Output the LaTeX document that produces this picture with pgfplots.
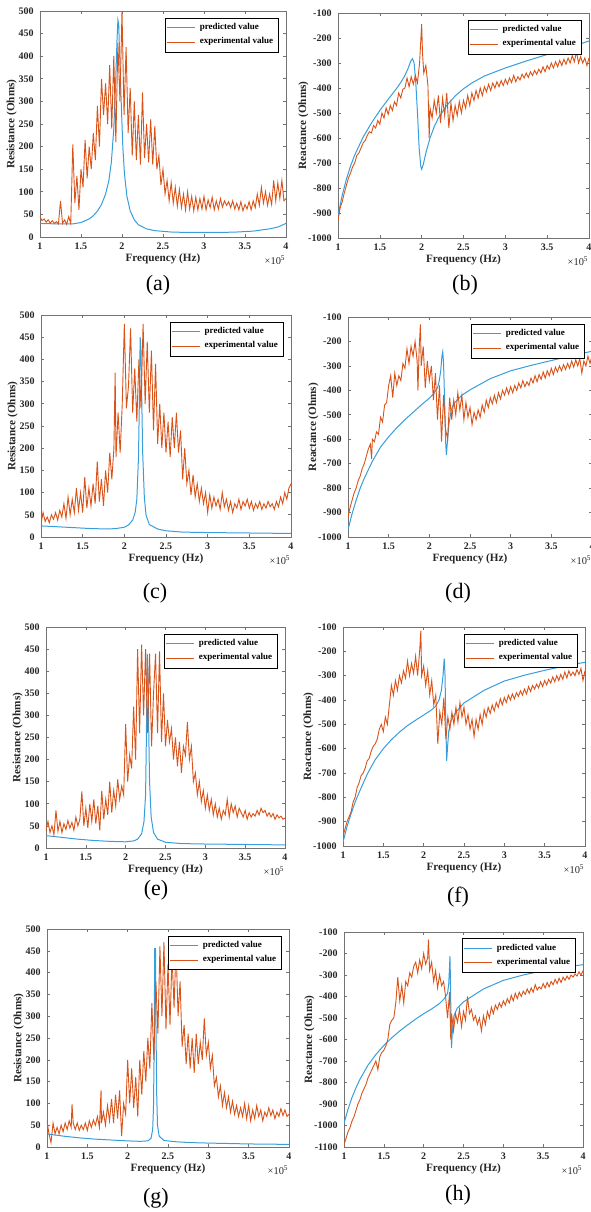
\documentclass[border=0pt]{standalone}
\usepackage{fontspec}
\setmainfont{Liberation Serif}
\usepackage{pgfplots}
\pgfplotsset{compat=1.18}
\usepackage{pgfplotstable}

\definecolor{predblue}{RGB}{55,158,220}
\definecolor{expred}{RGB}{217,83,25}

% experimental series, x in units of 1e5 Hz
\pgfplotstableread[row sep=\\]{x y\\
1.000 45\\ 1.025 36\\ 1.050 40\\ 1.075 33\\ 1.100 38\\ 1.125 31\\ 1.150 36\\ 1.175 30\\
1.200 34\\ 1.225 29\\ 1.250 80\\ 1.275 30\\ 1.300 38\\ 1.325 28\\ 1.350 45\\ 1.375 30\\
1.400 205\\ 1.425 75\\ 1.450 135\\ 1.475 60\\ 1.500 150\\ 1.525 110\\ 1.550 215\\ 1.575 130\\
1.600 200\\ 1.625 150\\ 1.650 230\\ 1.675 170\\ 1.700 290\\ 1.725 200\\ 1.750 350\\ 1.775 270\\
1.800 340\\ 1.825 250\\ 1.850 380\\ 1.875 240\\ 1.900 400\\ 1.925 210\\ 1.950 430\\ 1.975 300\\
2.000 500\\ 2.025 270\\ 2.050 420\\ 2.075 230\\ 2.100 330\\ 2.125 180\\ 2.150 300\\ 2.175 170\\
2.200 270\\ 2.225 160\\ 2.250 320\\ 2.275 175\\ 2.300 250\\ 2.325 165\\ 2.350 260\\ 2.375 160\\
2.400 245\\ 2.425 150\\ 2.450 180\\ 2.475 115\\ 2.500 150\\ 2.525 95\\ 2.550 125\\ 2.575 80\\
2.600 120\\ 2.625 75\\ 2.650 110\\ 2.675 68\\ 2.700 105\\ 2.725 65\\ 2.750 95\\ 2.775 60\\
2.800 100\\ 2.825 62\\ 2.850 90\\ 2.875 58\\ 2.900 88\\ 2.925 60\\ 2.950 85\\ 2.975 62\\
3.000 90\\ 3.025 60\\ 3.050 82\\ 3.075 65\\ 3.100 88\\ 3.125 60\\ 3.150 80\\ 3.175 62\\
3.200 85\\ 3.225 66\\ 3.250 80\\ 3.275 70\\ 3.300 78\\ 3.325 65\\ 3.350 80\\ 3.375 62\\
3.400 75\\ 3.425 60\\ 3.450 78\\ 3.475 58\\ 3.500 72\\ 3.525 62\\ 3.550 78\\ 3.575 60\\
3.600 80\\ 3.625 65\\ 3.650 95\\ 3.675 70\\ 3.700 110\\ 3.725 75\\ 3.750 100\\ 3.775 70\\
3.800 95\\ 3.825 72\\ 3.850 125\\ 3.875 80\\ 3.900 120\\ 3.925 85\\ 3.950 125\\ 3.975 80\\
4.000 85\\
}\expA

\pgfplotstableread[row sep=\\]{x y\\
1.000 -930\\ 1.025 -880\\ 1.050 -855\\ 1.075 -820\\ 1.100 -790\\ 1.125 -760\\ 1.150 -740\\ 1.175 -715\\
1.200 -700\\ 1.225 -670\\ 1.250 -660\\ 1.275 -640\\ 1.300 -620\\ 1.325 -610\\ 1.350 -590\\ 1.375 -575\\
1.400 -580\\ 1.425 -550\\ 1.450 -560\\ 1.475 -530\\ 1.500 -545\\ 1.525 -500\\ 1.550 -520\\ 1.575 -480\\
1.600 -505\\ 1.625 -470\\ 1.650 -490\\ 1.675 -455\\ 1.700 -470\\ 1.725 -420\\ 1.750 -440\\ 1.775 -405\\
1.800 -400\\ 1.825 -360\\ 1.850 -395\\ 1.875 -355\\ 1.900 -385\\ 1.925 -350\\ 1.950 -380\\ 1.975 -300\\
2.000 -145\\ 2.010 -260\\ 2.025 -340\\ 2.050 -310\\ 2.075 -390\\ 2.090 -600\\ 2.100 -480\\ 2.125 -520\\
2.150 -450\\ 2.175 -500\\ 2.200 -430\\ 2.225 -540\\ 2.250 -440\\ 2.275 -510\\ 2.300 -420\\ 2.325 -560\\
2.350 -460\\ 2.375 -530\\ 2.400 -470\\ 2.425 -510\\ 2.450 -455\\ 2.475 -500\\ 2.500 -450\\ 2.525 -480\\
2.550 -430\\ 2.575 -470\\ 2.600 -420\\ 2.625 -450\\ 2.650 -410\\ 2.675 -440\\ 2.700 -400\\ 2.725 -430\\
2.750 -395\\ 2.775 -415\\ 2.800 -385\\ 2.825 -410\\ 2.850 -380\\ 2.875 -400\\ 2.900 -375\\ 2.925 -395\\
2.950 -370\\ 2.975 -390\\ 3.000 -365\\ 3.025 -385\\ 3.050 -360\\ 3.075 -378\\ 3.100 -350\\ 3.125 -375\\
3.150 -355\\ 3.175 -368\\ 3.200 -345\\ 3.225 -360\\ 3.250 -340\\ 3.275 -358\\ 3.300 -335\\ 3.325 -350\\
3.350 -330\\ 3.375 -345\\ 3.400 -325\\ 3.425 -340\\ 3.450 -315\\ 3.475 -335\\ 3.500 -310\\ 3.525 -325\\
3.550 -300\\ 3.575 -320\\ 3.600 -295\\ 3.625 -315\\ 3.650 -290\\ 3.675 -310\\ 3.700 -285\\ 3.725 -305\\
3.750 -280\\ 3.775 -300\\ 3.800 -270\\ 3.825 -295\\ 3.850 -255\\ 3.875 -300\\ 3.900 -275\\ 3.925 -300\\
3.950 -280\\ 3.975 -310\\ 4.000 -280\\
}\expB

\pgfplotstableread[row sep=\\]{x y\\
1.000 30\\ 1.025 55\\ 1.050 35\\ 1.075 45\\ 1.100 32\\ 1.125 50\\ 1.150 40\\ 1.175 55\\
1.200 38\\ 1.225 60\\ 1.250 45\\ 1.275 75\\ 1.300 42\\ 1.325 90\\ 1.350 50\\ 1.375 85\\
1.400 55\\ 1.425 110\\ 1.450 60\\ 1.475 100\\ 1.500 55\\ 1.525 135\\ 1.550 65\\ 1.575 110\\
1.600 70\\ 1.625 120\\ 1.650 75\\ 1.675 170\\ 1.700 80\\ 1.725 130\\ 1.750 70\\ 1.775 150\\
1.800 100\\ 1.825 190\\ 1.850 130\\ 1.875 200\\ 1.890 370\\ 1.900 180\\ 1.925 280\\ 1.950 190\\
1.975 300\\ 2.000 480\\ 2.025 290\\ 2.050 340\\ 2.075 470\\ 2.100 280\\ 2.125 380\\ 2.150 260\\
2.175 400\\ 2.200 290\\ 2.225 480\\ 2.250 300\\ 2.275 440\\ 2.300 280\\ 2.325 420\\ 2.350 240\\
2.375 390\\ 2.400 210\\ 2.425 300\\ 2.450 200\\ 2.475 280\\ 2.500 190\\ 2.525 260\\ 2.550 180\\
2.575 270\\ 2.600 200\\ 2.625 280\\ 2.650 190\\ 2.675 240\\ 2.700 130\\ 2.725 200\\ 2.750 120\\
2.775 150\\ 2.800 95\\ 2.825 140\\ 2.850 90\\ 2.875 120\\ 2.900 80\\ 2.925 110\\ 2.950 75\\
2.975 100\\ 3.000 55\\ 3.025 95\\ 3.050 65\\ 3.075 90\\ 3.100 70\\ 3.125 85\\ 3.150 62\\
3.175 100\\ 3.200 68\\ 3.225 85\\ 3.250 60\\ 3.275 80\\ 3.300 55\\ 3.325 75\\ 3.350 65\\
3.375 85\\ 3.400 62\\ 3.425 80\\ 3.450 70\\ 3.475 85\\ 3.500 65\\ 3.525 80\\ 3.550 60\\
3.575 75\\ 3.600 65\\ 3.625 80\\ 3.650 62\\ 3.675 75\\ 3.700 65\\ 3.725 80\\ 3.750 68\\
3.775 75\\ 3.800 62\\ 3.825 80\\ 3.850 68\\ 3.875 90\\ 3.900 75\\ 3.925 100\\ 3.950 85\\
3.975 110\\ 4.000 120\\
}\expC

\pgfplotstableread[row sep=\\]{x y\\
1.000 -920\\ 1.025 -880\\ 1.050 -850\\ 1.075 -820\\ 1.100 -800\\ 1.125 -770\\ 1.150 -750\\ 1.175 -720\\
1.200 -700\\ 1.225 -670\\ 1.250 -640\\ 1.275 -620\\ 1.290 -680\\ 1.300 -600\\ 1.325 -610\\ 1.350 -570\\
1.375 -580\\ 1.400 -510\\ 1.425 -530\\ 1.450 -460\\ 1.475 -450\\ 1.500 -380\\ 1.525 -340\\ 1.550 -430\\
1.575 -330\\ 1.600 -380\\ 1.625 -340\\ 1.650 -360\\ 1.675 -290\\ 1.700 -310\\ 1.725 -230\\ 1.750 -290\\
1.775 -220\\ 1.800 -260\\ 1.825 -200\\ 1.850 -280\\ 1.860 -400\\ 1.875 -230\\ 1.890 -130\\ 1.900 -300\\
1.925 -220\\ 1.950 -390\\ 1.975 -280\\ 2.000 -360\\ 2.025 -300\\ 2.050 -440\\ 2.075 -330\\ 2.100 -520\\
2.125 -380\\ 2.150 -610\\ 2.175 -420\\ 2.200 -560\\ 2.225 -600\\ 2.250 -430\\ 2.275 -520\\ 2.300 -440\\
2.325 -500\\ 2.350 -410\\ 2.375 -480\\ 2.400 -420\\ 2.425 -520\\ 2.450 -450\\ 2.475 -510\\ 2.500 -470\\
2.525 -540\\ 2.550 -490\\ 2.575 -520\\ 2.600 -480\\ 2.625 -510\\ 2.650 -460\\ 2.675 -490\\ 2.700 -440\\
2.725 -470\\ 2.750 -430\\ 2.775 -455\\ 2.800 -420\\ 2.825 -450\\ 2.850 -410\\ 2.875 -435\\ 2.900 -400\\
2.925 -420\\ 2.950 -390\\ 2.975 -415\\ 3.000 -385\\ 3.025 -410\\ 3.050 -380\\ 3.075 -400\\ 3.100 -370\\
3.125 -390\\ 3.150 -360\\ 3.175 -385\\ 3.200 -365\\ 3.225 -380\\ 3.250 -350\\ 3.275 -370\\ 3.300 -340\\
3.325 -365\\ 3.350 -335\\ 3.375 -355\\ 3.400 -325\\ 3.425 -350\\ 3.450 -320\\ 3.475 -340\\ 3.500 -310\\
3.525 -335\\ 3.550 -305\\ 3.575 -325\\ 3.600 -300\\ 3.625 -320\\ 3.650 -295\\ 3.675 -315\\ 3.700 -290\\
3.725 -310\\ 3.750 -280\\ 3.775 -305\\ 3.800 -275\\ 3.825 -300\\ 3.850 -270\\ 3.875 -330\\ 3.900 -280\\
3.925 -300\\ 3.950 -260\\ 3.975 -290\\ 4.000 -260\\
}\expD

\pgfplotstableread[row sep=\\]{x y\\
1.000 40\\ 1.025 60\\ 1.050 35\\ 1.075 50\\ 1.100 30\\ 1.125 85\\ 1.150 38\\ 1.175 60\\
1.200 35\\ 1.225 55\\ 1.250 42\\ 1.275 62\\ 1.300 45\\ 1.325 58\\ 1.350 40\\ 1.375 70\\
1.400 50\\ 1.425 65\\ 1.450 128\\ 1.475 50\\ 1.500 90\\ 1.525 45\\ 1.550 100\\ 1.575 60\\
1.600 110\\ 1.625 55\\ 1.650 95\\ 1.675 40\\ 1.700 130\\ 1.725 65\\ 1.750 110\\ 1.775 75\\
1.800 150\\ 1.825 80\\ 1.850 130\\ 1.875 95\\ 1.900 155\\ 1.925 110\\ 1.950 140\\ 1.975 120\\
2.000 280\\ 2.025 150\\ 2.050 210\\ 2.075 180\\ 2.100 320\\ 2.125 200\\ 2.150 450\\ 2.175 260\\
2.200 460\\ 2.225 300\\ 2.250 450\\ 2.275 260\\ 2.300 440\\ 2.325 230\\ 2.350 350\\ 2.375 440\\
2.400 260\\ 2.425 445\\ 2.450 240\\ 2.475 350\\ 2.500 230\\ 2.525 290\\ 2.550 240\\ 2.575 270\\
2.600 200\\ 2.625 250\\ 2.650 185\\ 2.675 240\\ 2.700 170\\ 2.725 230\\ 2.750 210\\ 2.775 285\\
2.800 200\\ 2.825 230\\ 2.850 150\\ 2.875 170\\ 2.900 120\\ 2.925 150\\ 2.950 105\\ 2.975 130\\
3.000 90\\ 3.025 120\\ 3.050 85\\ 3.075 110\\ 3.100 75\\ 3.125 100\\ 3.150 70\\ 3.175 90\\
3.200 65\\ 3.225 85\\ 3.250 75\\ 3.275 110\\ 3.300 70\\ 3.325 100\\ 3.350 80\\ 3.375 95\\
3.400 70\\ 3.425 90\\ 3.450 80\\ 3.475 70\\ 3.500 85\\ 3.525 65\\ 3.550 80\\ 3.575 70\\
3.600 78\\ 3.625 72\\ 3.650 85\\ 3.675 75\\ 3.700 90\\ 3.725 80\\ 3.750 85\\ 3.775 72\\
3.800 80\\ 3.825 70\\ 3.850 78\\ 3.875 65\\ 3.900 75\\ 3.925 68\\ 3.950 72\\ 3.975 65\\
4.000 68\\
}\expE

\pgfplotstableread[row sep=\\]{x y\\
1.000 -960\\ 1.025 -930\\ 1.050 -900\\ 1.075 -880\\ 1.100 -860\\ 1.125 -820\\ 1.150 -800\\ 1.175 -760\\
1.200 -740\\ 1.225 -710\\ 1.250 -700\\ 1.275 -680\\ 1.300 -650\\ 1.325 -640\\ 1.350 -610\\ 1.375 -590\\
1.400 -580\\ 1.425 -560\\ 1.450 -520\\ 1.475 -500\\ 1.500 -530\\ 1.525 -470\\ 1.550 -500\\ 1.575 -420\\
1.600 -340\\ 1.625 -380\\ 1.650 -320\\ 1.675 -360\\ 1.700 -300\\ 1.725 -330\\ 1.750 -280\\ 1.775 -310\\
1.800 -240\\ 1.825 -300\\ 1.850 -250\\ 1.875 -290\\ 1.900 -220\\ 1.925 -300\\ 1.950 -200\\ 1.965 -115\\
1.975 -300\\ 2.000 -260\\ 2.025 -340\\ 2.050 -280\\ 2.075 -380\\ 2.100 -320\\ 2.125 -420\\ 2.150 -380\\
2.175 -580\\ 2.200 -450\\ 2.225 -500\\ 2.250 -390\\ 2.275 -560\\ 2.300 -470\\ 2.325 -520\\ 2.350 -450\\
2.375 -500\\ 2.400 -430\\ 2.425 -490\\ 2.450 -410\\ 2.475 -470\\ 2.500 -430\\ 2.525 -500\\ 2.550 -460\\
2.575 -520\\ 2.600 -480\\ 2.625 -550\\ 2.650 -480\\ 2.675 -520\\ 2.700 -460\\ 2.725 -500\\ 2.750 -440\\
2.775 -470\\ 2.800 -430\\ 2.825 -455\\ 2.850 -420\\ 2.875 -445\\ 2.900 -410\\ 2.925 -430\\ 2.950 -395\\
2.975 -420\\ 3.000 -390\\ 3.025 -410\\ 3.050 -380\\ 3.075 -400\\ 3.100 -375\\ 3.125 -395\\ 3.150 -370\\
3.175 -385\\ 3.200 -362\\ 3.225 -380\\ 3.250 -355\\ 3.275 -375\\ 3.300 -345\\ 3.325 -365\\ 3.350 -340\\
3.375 -355\\ 3.400 -335\\ 3.425 -350\\ 3.450 -325\\ 3.475 -345\\ 3.500 -320\\ 3.525 -338\\ 3.550 -315\\
3.575 -330\\ 3.600 -305\\ 3.625 -325\\ 3.650 -300\\ 3.675 -320\\ 3.700 -295\\ 3.725 -315\\ 3.750 -285\\
3.775 -310\\ 3.800 -280\\ 3.825 -300\\ 3.850 -285\\ 3.875 -300\\ 3.900 -275\\ 3.925 -295\\ 3.950 -270\\
3.975 -320\\ 4.000 -280\\
}\expF

\pgfplotstableread[row sep=\\]{x y\\
1.000 60\\ 1.025 30\\ 1.050 10\\ 1.075 55\\ 1.100 30\\ 1.125 45\\ 1.150 30\\ 1.175 50\\
1.200 35\\ 1.225 55\\ 1.250 40\\ 1.275 60\\ 1.300 45\\ 1.310 98\\ 1.325 55\\ 1.350 40\\
1.375 55\\ 1.400 38\\ 1.425 50\\ 1.450 40\\ 1.475 55\\ 1.500 38\\ 1.525 60\\ 1.550 45\\
1.575 62\\ 1.600 50\\ 1.625 70\\ 1.650 45\\ 1.670 130\\ 1.675 55\\ 1.700 80\\ 1.725 50\\
1.750 95\\ 1.775 60\\ 1.800 110\\ 1.825 55\\ 1.850 120\\ 1.875 65\\ 1.900 130\\ 1.925 25\\
1.950 100\\ 1.975 75\\ 2.000 200\\ 2.025 100\\ 2.050 180\\ 2.075 90\\ 2.100 160\\ 2.125 70\\
2.150 200\\ 2.175 120\\ 2.200 220\\ 2.225 150\\ 2.250 250\\ 2.275 180\\ 2.300 330\\ 2.325 200\\
2.350 380\\ 2.375 260\\ 2.400 460\\ 2.425 300\\ 2.450 470\\ 2.475 270\\ 2.500 420\\ 2.525 280\\
2.550 440\\ 2.575 320\\ 2.600 460\\ 2.625 300\\ 2.650 380\\ 2.675 230\\ 2.700 280\\ 2.725 190\\
2.750 260\\ 2.775 180\\ 2.800 250\\ 2.825 170\\ 2.850 260\\ 2.875 190\\ 2.900 240\\ 2.925 200\\
2.950 295\\ 2.975 210\\ 3.000 240\\ 3.025 180\\ 3.050 210\\ 3.075 140\\ 3.100 160\\ 3.125 115\\
3.150 140\\ 3.175 95\\ 3.200 125\\ 3.225 90\\ 3.250 115\\ 3.275 80\\ 3.300 105\\ 3.325 75\\
3.350 95\\ 3.375 70\\ 3.400 90\\ 3.425 70\\ 3.450 100\\ 3.475 65\\ 3.500 95\\ 3.525 60\\
3.550 85\\ 3.575 65\\ 3.600 95\\ 3.625 70\\ 3.650 85\\ 3.675 60\\ 3.700 80\\ 3.725 70\\
3.750 90\\ 3.775 72\\ 3.800 85\\ 3.825 65\\ 3.850 80\\ 3.875 70\\ 3.900 88\\ 3.925 72\\
3.950 85\\ 3.975 70\\ 4.000 75\\
}\expG

\pgfplotstableread[row sep=\\]{x y\\
1.000 -1090\\ 1.025 -1060\\ 1.050 -1030\\ 1.075 -1010\\ 1.100 -980\\ 1.125 -960\\ 1.150 -930\\ 1.175 -900\\
1.200 -880\\ 1.225 -850\\ 1.250 -830\\ 1.275 -810\\ 1.300 -780\\ 1.325 -760\\ 1.350 -740\\ 1.375 -720\\
1.400 -700\\ 1.425 -740\\ 1.450 -680\\ 1.475 -660\\ 1.500 -650\\ 1.525 -630\\ 1.550 -600\\ 1.575 -530\\
1.600 -510\\ 1.625 -500\\ 1.650 -430\\ 1.675 -310\\ 1.700 -420\\ 1.725 -350\\ 1.750 -430\\ 1.775 -330\\
1.800 -350\\ 1.825 -290\\ 1.850 -310\\ 1.875 -260\\ 1.900 -240\\ 1.925 -290\\ 1.950 -230\\ 1.975 -270\\
2.000 -200\\ 2.025 -250\\ 2.050 -220\\ 2.060 -135\\ 2.075 -280\\ 2.100 -240\\ 2.125 -330\\ 2.150 -280\\
2.175 -360\\ 2.200 -300\\ 2.225 -350\\ 2.250 -330\\ 2.275 -400\\ 2.300 -500\\ 2.325 -380\\ 2.340 -600\\
2.350 -480\\ 2.375 -560\\ 2.400 -480\\ 2.425 -520\\ 2.450 -460\\ 2.475 -540\\ 2.500 -470\\ 2.525 -510\\
2.550 -400\\ 2.575 -480\\ 2.600 -460\\ 2.625 -510\\ 2.650 -490\\ 2.675 -530\\ 2.700 -500\\ 2.725 -560\\
2.750 -490\\ 2.775 -530\\ 2.800 -470\\ 2.825 -500\\ 2.850 -450\\ 2.875 -480\\ 2.900 -440\\ 2.925 -460\\
2.950 -430\\ 2.975 -450\\ 3.000 -420\\ 3.025 -440\\ 3.050 -410\\ 3.075 -430\\ 3.100 -395\\ 3.125 -420\\
3.150 -385\\ 3.175 -410\\ 3.200 -380\\ 3.225 -400\\ 3.250 -375\\ 3.275 -390\\ 3.300 -365\\ 3.325 -385\\
3.350 -360\\ 3.375 -380\\ 3.400 -345\\ 3.425 -370\\ 3.450 -355\\ 3.475 -365\\ 3.500 -340\\ 3.525 -360\\
3.550 -335\\ 3.575 -355\\ 3.600 -330\\ 3.625 -345\\ 3.650 -320\\ 3.675 -340\\ 3.700 -315\\ 3.725 -335\\
3.750 -310\\ 3.775 -325\\ 3.800 -305\\ 3.825 -320\\ 3.850 -300\\ 3.875 -310\\ 3.900 -295\\ 3.925 -305\\
3.950 -285\\ 3.975 -300\\ 4.000 -280\\
}\expH

\pgfplotsset{
  panel/.style={
    scale only axis,
    xmin=1, xmax=4,
    xtick={1,1.5,2,2.5,3,3.5,4},
    tick align=inside,
    major tick length=1.6pt,
    axis line style={black!55},
    tick style={black!55, line width=0.3pt},
    /pgf/number format/assume math mode=true,
    /pgf/number format/1000 sep={},
    ticklabel style={font=\bfseries\fontsize{5}{6}\selectfont, text=black!85},
    xticklabel style={yshift=0.5pt},
    yticklabel style={xshift=0.3pt},
    xlabel={Frequency (Hz)},
    label style={font=\bfseries\fontsize{5.6}{6.5}\selectfont, text=black!85},
    xlabel style={yshift=5pt},
    ylabel style={yshift=-6pt},
    legend cell align=left,
    legend style={at={(0.97,0.97)}, anchor=north east, draw=black, line width=0.4pt,
      font=\bfseries\fontsize{4.5}{5}\selectfont, inner sep=0.6pt, row sep=-1.5pt},
    legend image code/.code={\draw[##1] (0pt,0pt) -- (14pt,0pt);},
    % x10^5 marker under the right end of the x axis
    after end axis/.append code={
      \node[anchor=north east, inner sep=0pt, yshift=-9pt,
        font=\fontsize{5.2}{6}\selectfont, text=black!85] at (rel axis cs:1,0) {×10\textsuperscript{5}};
    },
  },
  res/.style={panel, ymin=0, ymax=500, ytick distance=50, ylabel={Resistance (Ohms)}},
  rea/.style={panel, ymin=-1000, ymax=-100, ytick distance=100, ylabel={Reactance (Ohms)}, ylabel style={yshift=-1pt}},
  pred/.style={predblue, line width=0.5pt},
  expt/.style={expred, line width=0.45pt},
}

\begin{document}
\begin{tikzpicture}
\useasboundingbox (0,0) rectangle (295pt,606pt);

% (a)
\begin{axis}[res, at={(20pt,487.5pt)}, anchor=south west, width=123pt, height=113pt]
\addplot[pred] coordinates {(1,30)(1.2,29)(1.4,29)(1.5,32)(1.6,40)(1.65,47)(1.7,57)(1.75,72)(1.8,95)(1.84,125)(1.87,165)(1.9,240)(1.92,330)(1.94,440)(1.95,480)(1.96,470)(1.97,410)(1.99,300)(2.01,200)(2.03,140)(2.06,90)(2.1,58)(2.15,38)(2.2,27)(2.3,18)(2.4,14)(2.6,11)(2.8,10)(3,10)(3.2,10)(3.4,11)(3.6,13)(3.8,18)(3.9,22)(4,30)};
\addplot[expt] table {\expA};
\legend{predicted value, experimental value}
\end{axis}
\node[font=\fontsize{11}{13}\selectfont] at (79pt,463.5pt) {(a)};

% (b)
\begin{axis}[rea, at={(169pt,487pt)}, anchor=south west, width=125.5pt, height=112.5pt]
\addplot[pred] coordinates {(1,-910)(1.05,-830)(1.1,-765)(1.15,-712)(1.2,-668)(1.3,-597)(1.4,-540)(1.5,-490)(1.6,-445)(1.7,-402)(1.75,-378)(1.8,-350)(1.84,-320)(1.87,-292)(1.89,-283)(1.91,-300)(1.93,-380)(1.95,-500)(1.97,-640)(1.99,-715)(2.0,-725)(2.02,-705)(2.05,-660)(2.1,-600)(2.15,-555)(2.2,-520)(2.3,-470)(2.4,-432)(2.5,-403)(2.6,-380)(2.75,-352)(3,-320)(3.25,-292)(3.5,-266)(3.75,-240)(4,-212)};
\addplot[expt] table {\expB};
\legend{predicted value, experimental value}
\end{axis}
\node[font=\fontsize{11}{13}\selectfont] at (232.5pt,463.5pt) {(b)};

% (c)
\begin{axis}[res, at={(20.5pt,337.5pt)}, anchor=south west, width=125pt, height=111pt]
\addplot[pred] coordinates {(1,25)(1.2,23)(1.4,21)(1.6,19)(1.8,18)(1.9,19)(2,22)(2.05,27)(2.1,38)(2.13,55)(2.15,85)(2.17,180)(2.18,300)(2.19,450)(2.2,420)(2.21,300)(2.22,190)(2.24,90)(2.26,50)(2.3,28)(2.4,18)(2.5,14)(2.7,11)(3,10)(3.5,9)(4,8)};
\addplot[expt] table {\expC};
\legend{predicted value, experimental value}
\end{axis}
\node[font=\fontsize{11}{13}\selectfont] at (77.5pt,309.5pt) {(c)};

% (d)
\begin{axis}[rea, at={(174pt,337.5pt)}, anchor=south west, width=122pt, height=110pt]
\addplot[pred] coordinates {(1,-970)(1.05,-905)(1.1,-850)(1.15,-800)(1.2,-760)(1.3,-690)(1.4,-632)(1.5,-590)(1.6,-553)(1.7,-520)(1.8,-490)(1.9,-460)(2,-432)(2.05,-415)(2.1,-390)(2.12,-365)(2.14,-320)(2.155,-260)(2.165,-242)(2.175,-290)(2.19,-470)(2.2,-610)(2.21,-665)(2.22,-620)(2.24,-540)(2.27,-480)(2.3,-455)(2.4,-420)(2.5,-398)(2.75,-352)(3,-320)(3.25,-298)(3.5,-278)(3.75,-258)(4,-240)};
\addplot[expt] table {\expD};
\legend{predicted value, experimental value}
\end{axis}
\node[font=\fontsize{11}{13}\selectfont] at (229pt,309.5pt) {(d)};

% (e)
\begin{axis}[res, at={(23pt,182pt)}, anchor=south west, width=119.5pt, height=110.5pt]
\addplot[pred] coordinates {(1,28)(1.2,24)(1.4,20)(1.6,17)(1.8,15)(2,14)(2.1,16)(2.15,20)(2.2,32)(2.23,60)(2.25,120)(2.26,250)(2.27,440)(2.28,400)(2.29,260)(2.3,150)(2.32,70)(2.35,35)(2.4,20)(2.5,13)(2.7,10)(3,9)(3.5,8)(4,7)};
\addplot[expt] table {\expE};
\legend{predicted value, experimental value}
\end{axis}
\node[font=\fontsize{11}{13}\selectfont] at (78pt,161pt) {(e)};

% (f)
\begin{axis}[rea, at={(171.5pt,183pt)}, anchor=south west, width=121pt, height=109.5pt]
\addplot[pred] coordinates {(1,-985)(1.05,-920)(1.1,-868)(1.15,-820)(1.2,-780)(1.3,-705)(1.4,-645)(1.5,-600)(1.6,-563)(1.7,-532)(1.8,-505)(1.9,-483)(2,-462)(2.1,-440)(2.15,-425)(2.19,-400)(2.22,-360)(2.24,-300)(2.255,-230)(2.265,-300)(2.275,-500)(2.285,-650)(2.295,-600)(2.31,-530)(2.34,-485)(2.4,-450)(2.5,-412)(2.75,-360)(3,-322)(3.25,-298)(3.5,-278)(3.75,-260)(4,-245)};
\addplot[expt] table {\expF};
\legend{predicted value, experimental value}
\end{axis}
\node[font=\fontsize{11}{13}\selectfont] at (229pt,157.5pt) {(f)};

% (g)
\begin{axis}[res, at={(23.5pt,32.5pt)}, anchor=south west, width=121pt, height=109pt]
\addplot[pred] coordinates {(1,30)(1.2,25)(1.4,21)(1.6,18)(1.8,16)(2,14)(2.15,13)(2.25,14)(2.29,20)(2.31,40)(2.32,90)(2.33,250)(2.335,455)(2.345,455)(2.35,300)(2.36,120)(2.37,50)(2.39,25)(2.45,15)(2.6,12)(2.8,10)(3,9)(3.5,7)(4,6)};
\addplot[expt] table {\expG};
\legend{predicted value, experimental value}
\end{axis}
\node[font=\fontsize{11}{13}\selectfont] at (78pt,7pt) {(g)};

% (h)
\begin{axis}[rea, ymin=-1100, at={(172pt,32.5pt)}, anchor=south west, width=119.5pt, height=107.5pt]
\addplot[pred] coordinates {(1,-990)(1.05,-925)(1.1,-870)(1.15,-825)(1.2,-785)(1.3,-720)(1.4,-670)(1.5,-628)(1.6,-592)(1.7,-560)(1.8,-532)(1.9,-505)(2,-480)(2.1,-458)(2.2,-432)(2.26,-410)(2.3,-385)(2.315,-340)(2.325,-260)(2.33,-212)(2.335,-300)(2.345,-560)(2.35,-640)(2.36,-560)(2.38,-490)(2.42,-455)(2.5,-425)(2.75,-365)(3,-325)(3.25,-300)(3.5,-280)(3.75,-265)(4,-252)};
\addplot[expt] table {\expH};
\legend{predicted value, experimental value}
\end{axis}
\node[font=\fontsize{11}{13}\selectfont] at (229pt,8.5pt) {(h)};

\end{tikzpicture}
\end{document}
